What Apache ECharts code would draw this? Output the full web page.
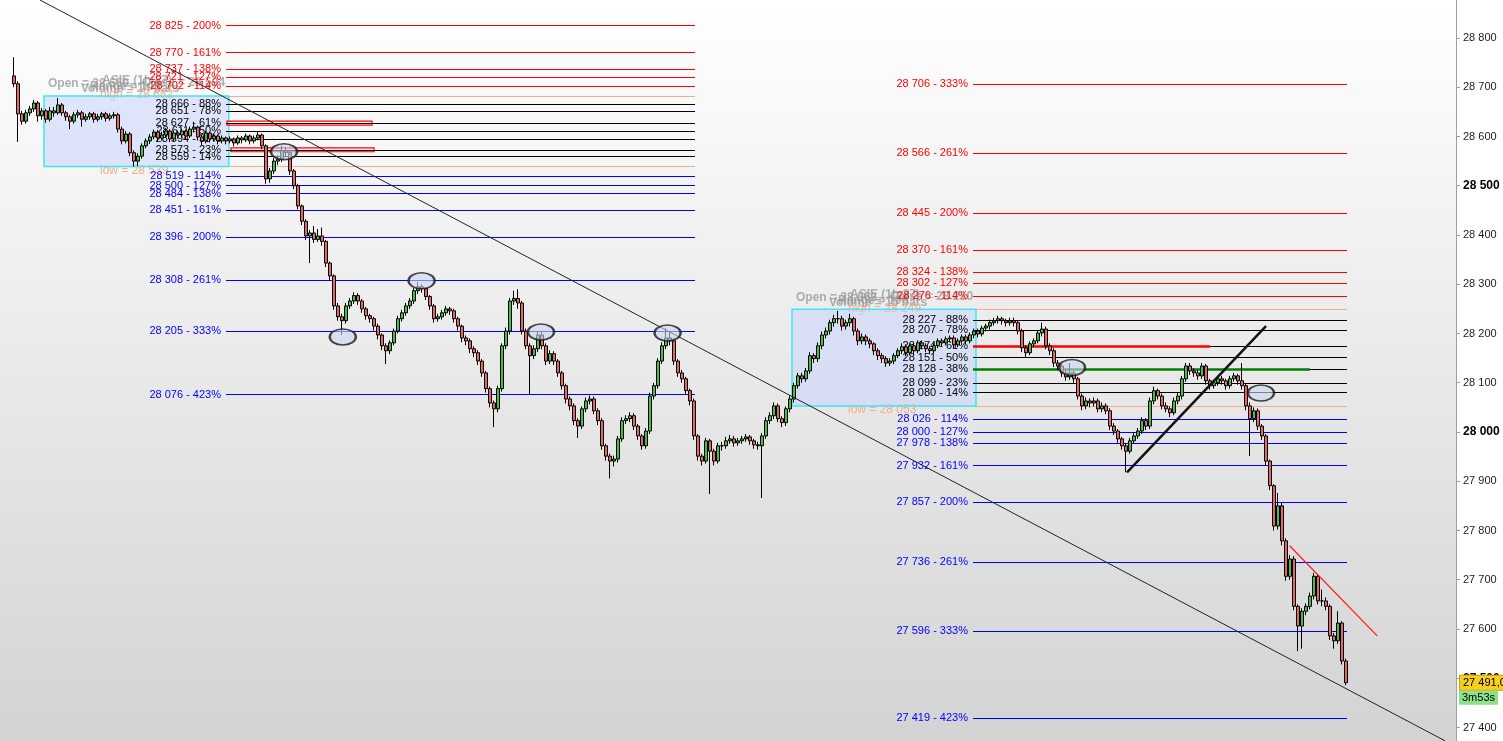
<!DOCTYPE html>
<html><head><meta charset="utf-8">
<script src="https://cdn.jsdelivr.net/npm/echarts@6/dist/echarts.min.js"></script>
<style>html,body{margin:0;padding:0;background:#fff}#c{width:1503px;height:741px}</style>
</head><body><div id="c"></div>
<script>
// ---------- DATA ----------
// candles: [open, close, low, high], one per 4px slot, starting at slot 3
const candles = [
[28723,28707,28700,28761],[28707,28646,28589,28712],[28646,28631,28624,28652],[28631,28648,28626,28654],[28648,28656,28642,28662],
[28656,28668,28650,28674],[28668,28642,28630,28672],[28642,28652,28634,28658],[28652,28635,28628,28656],[28635,28652,28630,28660],
[28652,28648,28640,28660],[28648,28664,28644,28678],[28664,28648,28642,28668],[28648,28640,28632,28652],[28640,28631,28615,28644],
[28631,28644,28626,28650],[28644,28648,28638,28654],[28648,28635,28620,28652],[28635,28640,28630,28646],[28640,28646,28634,28650],
[28646,28635,28628,28650],[28635,28640,28630,28646],[28640,28646,28634,28650],[28646,28637,28630,28650],[28637,28642,28632,28647],
[28642,28644,28636,28650],[28644,28615,28608,28648],[28615,28591,28584,28620],[28591,28605,28586,28611],[28605,28567,28560,28609],
[28567,28550,28539,28572],[28550,28560,28540,28566],[28560,28581,28555,28586],[28581,28591,28576,28596],[28591,28599,28585,28605],
[28599,28609,28594,28614],[28609,28597,28590,28613],[28597,28603,28592,28610],[28603,28611,28598,28617],[28611,28595,28589,28615],
[28595,28607,28590,28612],[28607,28603,28596,28612],[28603,28611,28598,28616],[28611,28601,28594,28614],[28601,28615,28597,28620],
[28615,28619,28608,28630],[28619,28599,28592,28622],[28599,28591,28582,28603],[28591,28607,28586,28612],[28607,28595,28588,28610],
[28595,28601,28590,28606],[28601,28591,28584,28604],[28591,28597,28586,28602],[28597,28591,28584,28600],[28591,28595,28586,28600],
[28595,28587,28580,28598],[28587,28597,28583,28602],[28597,28593,28586,28601],[28593,28601,28589,28606],[28601,28591,28584,28604],
[28591,28597,28586,28602],[28597,28603,28592,28611],[28603,28581,28574,28606],[28581,28514,28504,28584],[28514,28530,28506,28536],
[28530,28550,28524,28556],[28550,28554,28542,28562],[28554,28571,28548,28581],[28571,28567,28558,28578],[28567,28530,28522,28570],
[28530,28500,28493,28534],[28500,28459,28452,28504],[28459,28428,28420,28462],[28428,28398,28390,28432],[28398,28404,28343,28410],
[28404,28391,28384,28418],[28391,28398,28386,28412],[28398,28387,28378,28415],[28387,28343,28335,28390],[28343,28317,28308,28346],
[28317,28256,28248,28320],[28256,28234,28226,28262],[28234,28226,28197,28240],[28226,28256,28220,28262],[28256,28266,28250,28272],
[28266,28277,28260,28284],[28277,28266,28258,28282],[28266,28250,28242,28270],[28250,28236,28228,28254],[28236,28230,28222,28240],
[28230,28215,28206,28234],[28215,28197,28188,28220],[28197,28175,28166,28200],[28175,28165,28138,28180],[28165,28181,28158,28186],
[28181,28205,28176,28210],[28205,28230,28200,28236],[28230,28242,28224,28248],[28242,28256,28236,28262],[28256,28266,28250,28272],
[28266,28287,28260,28292],[28287,28295,28280,28305],[28295,28291,28283,28300],[28291,28275,28268,28294],[28275,28256,28248,28278],
[28256,28230,28222,28260],[28230,28234,28224,28240],[28234,28242,28228,28248],[28242,28250,28236,28256],[28250,28246,28238,28254],
[28246,28230,28222,28250],[28230,28215,28206,28234],[28215,28191,28182,28218],[28191,28185,28176,28196],[28185,28169,28160,28190],
[28169,28161,28152,28174],[28161,28144,28136,28166],[28144,28120,28112,28148],[28120,28088,28080,28124],[28088,28059,28050,28092],
[28059,28047,28010,28064],[28047,28088,28040,28094],[28088,28175,28082,28180],[28175,28205,28168,28212],[28205,28266,28198,28272],
[28266,28271,28258,28287],[28271,28262,28250,28290],[28262,28205,28198,28266],[28205,28175,28168,28210],[28175,28155,28077,28180],
[28155,28169,28148,28176],[28169,28197,28162,28205],[28197,28175,28168,28204],[28175,28144,28136,28180],[28144,28159,28138,28166],
[28159,28144,28136,28164],[28144,28120,28112,28148],[28120,28094,28086,28124],[28094,28067,28058,28098],[28067,28053,28044,28072],
[28053,28023,28014,28058],[28023,28012,27988,28028],[28012,28047,28006,28052],[28047,28063,28040,28070],[28063,28067,28056,28074],
[28067,28043,28036,28072],[28043,28023,28014,28048],[28023,27972,27964,28028],[27972,27951,27942,27976],[27951,27941,27906,27956],
[27941,27945,27930,27952],[27945,27986,27938,27992],[27986,28023,27980,28030],[28023,28027,28016,28034],[28027,28033,28020,28040],
[28033,28012,28004,28038],[28012,27992,27984,28016],[27992,27972,27964,27996],[27972,28002,27966,28008],[28002,28073,27996,28080],
[28073,28094,28066,28100],[28094,28144,28088,28150],[28144,28175,28138,28182],[28175,28191,28168,28211],[28191,28185,28176,28205],
[28185,28144,28136,28190],[28144,28120,28112,28148],[28120,28108,28100,28126],[28108,28084,28076,28112],[28084,28063,28054,28088],
[28063,27992,27984,28068],[27992,27951,27942,27996],[27951,27941,27932,27956],[27941,27982,27936,27988],[27982,27961,27874,27986],
[27961,27941,27932,27966],[27941,27972,27936,27978],[27972,27972,27962,27980],[27972,27982,27966,27990],[27982,27986,27976,27994],
[27986,27978,27970,27992],[27978,27982,27972,27988],[27982,27986,27976,27992],[27986,27990,27980,27996],[27990,27982,27974,27994],
[27982,27974,27966,27986],[27974,27972,27964,27980],[27972,27992,27866,27998],[27992,28023,27986,28030],[28023,28033,28016,28040],
[28033,28053,28026,28060],[28053,28027,28020,28058],[28027,28019,28010,28032],[28019,28047,28012,28052],[28047,28067,28040,28074],
[28067,28094,28060,28100],[28094,28114,28088,28120],[28114,28108,28100,28120],[28108,28124,28102,28130],[28124,28155,28118,28162],
[28155,28149,28140,28160],[28149,28175,28142,28182],[28175,28197,28168,28204],[28197,28205,28190,28212],[28205,28222,28198,28228],
[28222,28230,28214,28238],[28230,28230,28220,28246],[28230,28215,28206,28236],[28215,28222,28208,28228],[28222,28230,28214,28240],
[28230,28205,28196,28234],[28205,28185,28176,28210],[28185,28193,28178,28200],[28193,28185,28176,28198],[28185,28179,28170,28190],
[28179,28165,28156,28182],[28165,28155,28146,28170],[28155,28149,28140,28160],[28149,28140,28132,28154],[28140,28144,28134,28150],
[28144,28155,28138,28160],[28155,28165,28150,28170],[28165,28173,28158,28180],[28173,28161,28154,28178],[28161,28175,28156,28180],
[28175,28165,28158,28180],[28165,28181,28160,28186],[28181,28175,28168,28186],[28175,28169,28162,28180],[28169,28165,28158,28174],
[28165,28175,28160,28180],[28175,28185,28170,28190],[28185,28181,28174,28190],[28181,28189,28176,28194],[28189,28191,28182,28196],
[28191,28177,28170,28196],[28177,28185,28172,28190],[28185,28193,28180,28198],[28193,28185,28178,28198],[28185,28197,28180,28202],
[28197,28205,28190,28210],[28205,28199,28192,28210],[28199,28211,28194,28216],[28211,28215,28204,28220],[28215,28222,28208,28228],
[28222,28226,28216,28232],[28226,28230,28220,28236],[28230,28226,28218,28234],[28226,28222,28214,28230],[28222,28226,28216,28232],
[28226,28222,28214,28232],[28222,28205,28198,28226],[28205,28171,28162,28210],[28171,28161,28152,28176],[28161,28179,28156,28184],
[28179,28185,28172,28190],[28185,28201,28180,28206],[28201,28209,28194,28222],[28209,28175,28168,28214],[28175,28165,28156,28180],
[28165,28140,28132,28170],[28140,28134,28126,28146],[28134,28120,28112,28138],[28120,28112,28104,28126],[28112,28120,28106,28140],
[28120,28108,28100,28124],[28108,28073,28066,28112],[28073,28053,28044,28078],[28053,28063,28046,28070],[28063,28059,28050,28068],
[28059,28063,28052,28070],[28063,28047,28040,28068],[28047,28053,28040,28060],[28053,28043,28036,28058],[28043,28012,28004,28048],
[28012,28002,27994,28018],[28002,27986,27978,28006],[27986,27972,27964,27990],[27972,27961,27918,27976],[27961,27982,27956,27988],
[27982,27992,27976,27998],[27992,28002,27986,28008],[28002,28023,27996,28030],[28023,28012,28004,28028],[28012,28063,28006,28070],
[28063,28084,28056,28092],[28084,28073,28066,28088],[28073,28053,28046,28078],[28053,28047,28040,28060],[28047,28039,28030,28052],
[28039,28063,28034,28070],[28063,28073,28056,28080],[28073,28108,28066,28114],[28108,28134,28102,28140],[28134,28124,28116,28140],
[28124,28120,28112,28130],[28120,28114,28106,28126],[28114,28134,28108,28140],[28134,28104,28096,28138],[28104,28094,28086,28108],
[28094,28100,28088,28106],[28100,28108,28094,28114],[28108,28104,28096,28114],[28104,28094,28086,28108],[28094,28108,28088,28114],
[28108,28114,28102,28120],[28114,28104,28096,28118],[28104,28094,28086,28140],[28094,28053,28044,28098],[28053,28027,27951,28060],
[28027,28043,28020,28050],[28043,28012,28004,28048],[28012,27992,27984,28016],[27992,27941,27932,27996],[27941,27891,27882,27944],
[27891,27809,27800,27894],[27809,27850,27802,27876],[27850,27779,27770,27856],[27779,27707,27698,27784],[27707,27742,27700,27750],
[27742,27646,27638,27748],[27646,27606,27555,27650],[27606,27636,27560,27642],[27636,27646,27628,27652],[27646,27667,27640,27674],
[27667,27707,27660,27714],[27707,27657,27650,27712],[27657,27657,27646,27680],[27657,27646,27638,27664],[27646,27586,27578,27650],
[27586,27576,27560,27592],[27576,27612,27570,27636],[27612,27535,27528,27616],[27535,27491,27486,27540]
];
const firstSlot = 3;
const slotCount = 364;

// price axis
const priceMin = 27372.6;
const priceMax = 28877.1;
const priceTicks = [27400,27500,27600,27700,27800,27900,28000,28100,28200,28300,28400,28500,28600,28700,28800];

// Fibonacci tool 1 (left)
const fibLeftRange = [28539, 28682];            // low, high
const fibLeftLevels = [28825,28770,28737,28721,28702,28666,28651,28627,28611,28594,28573,28559,28519,28500,28484,28451,28396,28308,28205,28076];
const fibLeftPcts   = ['200%','161%','138%','127%','114%','88%','78%','61%','50%','38%','23%','14%','114%','127%','138%','161%','200%','261%','333%','423%'];
const fibLeftKinds  = ['u','u','u','u','u','i','i','i','i','i','i','i','d','d','d','d','d','d','d','d'];
const fibLeftSlots  = [10.5, 56.7, 173.25];     // box start, box end / lines start, lines end
// Fibonacci tool 2 (right)
const fibRightRange = [28053, 28249];
const fibRightLevels = [28706,28566,28445,28370,28324,28302,28276,28227,28207,28174,28151,28128,28099,28080,28026,28000,27978,27932,27857,27736,27596,27419];
const fibRightPcts   = ['333%','261%','200%','161%','138%','127%','114%','88%','78%','61%','50%','38%','23%','14%','114%','127%','138%','161%','200%','261%','333%','423%'];
const fibRightKinds  = ['u','u','u','u','u','u','u','i','i','i','i','i','i','i','d','d','d','d','d','d','d','d'];
const fibRightSlots  = [197.5, 243.5, 336.25];
// info texts of the two session boxes
const leftInfo  = ['Open = 28 650', 'ASIE (1h 27)', 'Close = 28 594', 'Volume = 14 bars', 'Range = 143'];
const rightInfo = ['Open = 28 063', 'ASIE (1h 27)', 'Close = 28 210', 'Volume = 15 bars', 'Range = 196'];
// highlighted levels (x from, x to, price)
const redBoxes = [[56.25, 92.5, 28627], [57.25, 93.0, 28573]];
const rightRedLine = [242.75, 302, 28174];
const rightGreenLine = [242.75, 327, 28128];
// trend lines [[slot, price],[slot, price]]
const bigTrend = [[9.5, 28877], [360.75, 27373]];
const upTrend = [[281.25, 27918], [316, 28215]];
const redTrend = [[321.9, 27769], [343.8, 27586]];
// marked swing points (ellipses)
const swingPoints = [[70.5,28569],[85.2,28193],[104.9,28307],[134.75,28203],[166.4,28201],[267.5,28131],[314.75,28079]];
// last price tag
const lastPrice = 27491;
const lastPriceText = '27 491,0';
const timerText = '3m53s';

// ---------- CHART ----------
const FONT = '"Liberation Sans", Arial, sans-serif';
const fmt = v => String(Math.round(v)).replace(/\B(?=(\d{3})+(?!\d))/g, ' ');
const kindColor = {u: '#ff0000', i: '#000000', d: '#0000ff'};
const SALMON = '#f7ab88';

const cats = [];
for (let i = 0; i < slotCount; i++) cats.push(String(i));
const candleData = candles.map((r, k) => [k + firstSlot, r[0], r[1], r[2], r[3]]);

function fibLines(levels, pcts, kinds, x0, x1) {
  return levels.map((p, k) => {
    const col = kindColor[kinds[k]];
    return [{coord: [x0, p], lineStyle: {color: col, width: 1, type: 'solid'},
             label: {show: true, position: 'start', formatter: fmt(p) + ' - ' + pcts[k], color: col,
                     fontSize: 11, fontFamily: FONT, distance: 5}},
            {coord: [x1, p]}];
  });
}
function rangeLines(range, x0, x1) {
  return range.map(p => [{coord: [x0, p], lineStyle: {color: SALMON, width: 1, type: 'solid'}, label: {show: false}}, {coord: [x1, p]}]);
}

const boxStyle = {color: 'rgba(200,212,250,0.55)', borderColor: '#3fe6f2', borderWidth: 1.5};

const chart = echarts.init(document.getElementById('c'), null, {renderer: 'canvas'});
const option = {
  animation: false,
  backgroundColor: '#ffffff',
  grid: {left: 0, right: 47, top: 0, bottom: 0, show: true, borderWidth: 0,
    backgroundColor: {type: 'linear', x: 0, y: 0, x2: 0, y2: 1,
      colorStops: [{offset: 0, color: '#ffffff'}, {offset: 1, color: '#d3d3d3'}]}},
  xAxis: [
    {type: 'category', data: cats, show: false, boundaryGap: true},
    {type: 'value', min: -0.5, max: slotCount - 0.5, show: false}
  ],
  yAxis: {
    type: 'value', position: 'right', min: priceMin, max: priceMax,
    axisLine: {show: true, onZero: false, lineStyle: {color: '#9aa0a6', width: 1}},
    axisTick: {show: true, inside: false, length: 4, customValues: priceTicks, lineStyle: {color: '#9aa0a6'}},
    splitLine: {show: false},
    axisLabel: {margin: 7, color: '#1a1a2a', fontSize: 11, fontFamily: FONT, customValues: priceTicks,
      formatter: v => (v % 500 === 0 ? '{b|' + fmt(v) + '}' : fmt(v)),
      rich: {b: {fontWeight: 'bold', fontSize: 12, color: '#000', fontFamily: FONT}}}
  },
  series: [
    { // session boxes + red highlight boxes
      type: 'line', xAxisIndex: 1, data: [], silent: true, z: 1,
      markArea: {silent: true, z: 1, label: {show: false},
        data: [
          [{coord: [fibLeftSlots[0], fibLeftRange[1]], itemStyle: boxStyle}, {coord: [fibLeftSlots[1], fibLeftRange[0]]}],
          [{coord: [fibRightSlots[0], fibRightRange[1]], itemStyle: boxStyle}, {coord: [fibRightSlots[1], fibRightRange[0]]}],
          ...redBoxes.map(b => [{coord: [b[0], b[2] + 4], itemStyle: {color: 'rgba(255,235,235,0.6)', borderColor: '#ff0000', borderWidth: 1.2}}, {coord: [b[1], b[2] - 4]}])
        ]}
    },
    { // fib levels
      type: 'line', xAxisIndex: 1, data: [], silent: true, z: 2,
      markLine: {silent: true, z: 2, symbol: ['none', 'none'], animation: false,
        data: [
          ...fibLines(fibLeftLevels, fibLeftPcts, fibLeftKinds, fibLeftSlots[1] - 0.7, fibLeftSlots[2]),
          ...fibLines(fibRightLevels, fibRightPcts, fibRightKinds, fibRightSlots[1] - 0.75, fibRightSlots[2]),
          ...rangeLines(fibLeftRange, fibLeftSlots[1], fibLeftSlots[2]),
          ...rangeLines(fibRightRange, fibRightSlots[1], fibRightSlots[2]),
          [{coord: [rightRedLine[0], rightRedLine[2]], lineStyle: {color: '#ff0000', width: 2.5, type: 'solid'}, label: {show: false}}, {coord: [rightRedLine[1], rightRedLine[2]]}],
          [{coord: [rightGreenLine[0], rightGreenLine[2]], lineStyle: {color: '#008000', width: 2.5, type: 'solid'}, label: {show: false}}, {coord: [rightGreenLine[1], rightGreenLine[2]]}]
        ]}
    },
    {
      type: 'candlestick', name: 'price', xAxisIndex: 0, data: candleData,
      encode: {x: 0, y: [1, 2, 3, 4]}, barWidth: 3.4, z: 3, silent: true,
      itemStyle: {color: '#3fc23f', color0: '#e96464', borderColor: '#000', borderColor0: '#000', borderWidth: 1}
    },
    {type: 'line', xAxisIndex: 1, data: bigTrend, symbol: 'none', z: 4, silent: true,
      lineStyle: {color: '#222', width: 1}},
    {type: 'line', xAxisIndex: 1, data: upTrend, symbol: 'none', z: 4, silent: true,
      lineStyle: {color: '#111', width: 2.5}},
    {type: 'line', xAxisIndex: 1, data: redTrend, symbol: 'none', z: 4, silent: true,
      lineStyle: {color: '#ff1a1a', width: 1.2}},
    {type: 'scatter', xAxisIndex: 1, data: swingPoints, symbol: 'circle', symbolSize: [26, 16], z: 5, silent: true,
      itemStyle: {color: 'rgba(205,215,242,0.75)', borderColor: '#1a1a1a', borderWidth: 2}}
  ]
};
chart.setOption(option);

// ---------- text overlays anchored to data coordinates ----------
const px = (x, y) => chart.convertToPixel({xAxisIndex: 1, yAxisIndex: 0}, [x, y]);
function infoGroup(info, range, slots) {
  const tl = px(slots[0], range[1]);
  const bl = px(slots[0], range[0]);
  const gray = {fill: 'rgba(150,150,150,0.75)', font: 'bold 12px ' + FONT};
  return [
    {type: 'text', left: tl[0] + 4, top: tl[1] - 18, style: Object.assign({text: info[0]}, gray)},
    {type: 'text', left: tl[0] + 58, top: tl[1] - 21, style: Object.assign({text: info[1]}, gray)},
    {type: 'text', left: tl[0] + 98, top: tl[1] - 19, style: Object.assign({text: info[2]}, gray)},
    {type: 'text', left: tl[0] + 37, top: tl[1] - 13, style: Object.assign({text: info[3]}, gray)},
    {type: 'text', left: tl[0] + 46, top: tl[1] - 15, style: Object.assign({text: info[4]}, gray)},
    {type: 'text', left: tl[0] + 56, top: tl[1] - 7, style: {text: 'high = ' + fmt(range[1]), fill: SALMON, font: '12px ' + FONT}},
    {type: 'text', left: tl[0] + 56, top: bl[1] - 2, style: {text: 'low = ' + fmt(range[0]), fill: SALMON, font: '12px ' + FONT}}
  ];
}
const lp = px(0, lastPrice);
const axisX = 1503 - 47;
chart.setOption({
  graphic: [
    ...infoGroup(leftInfo, fibLeftRange, fibLeftSlots),
    ...infoGroup(rightInfo, fibRightRange, fibRightSlots),
    {type: 'text', left: axisX + 3, top: lp[1] - 8, z: 100,
      style: {text: lastPriceText, fill: '#000', font: '11px ' + FONT, backgroundColor: '#f9cf1e',
              borderColor: '#c9a000', borderWidth: 1, padding: [2, 3, 1, 3]}},
    {type: 'text', left: axisX + 3, top: lp[1] + 8, z: 100,
      style: {text: timerText, fill: '#000', font: '11px ' + FONT, backgroundColor: '#8ee08a',
              padding: [2, 3, 1, 3]}}
  ]
});
</script>
</body></html>
